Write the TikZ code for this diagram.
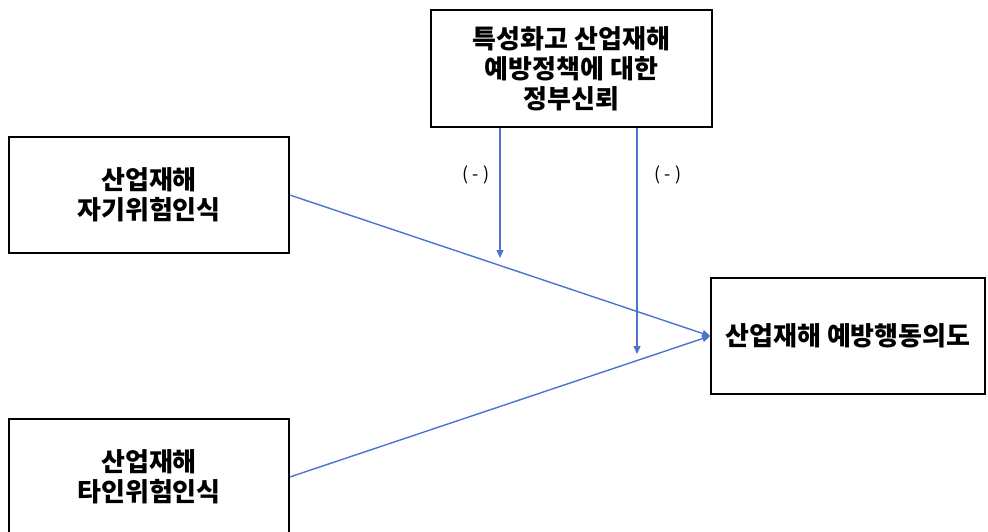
\documentclass[tikz,border=0pt]{standalone}
\usepackage{fontspec}
\newfontfamily\kr{Noto Sans CJK KR}
\usetikzlibrary{arrows.meta}
\definecolor{linkblue}{RGB}{79,114,205}
\tikzset{
  box/.style={draw=black, line width=1.6pt, fill=white, rectangle, align=center,
    font=\kr\bfseries\fontsize{26}{30}\selectfont, inner sep=0pt},
  link/.style={draw=linkblue, line width=1.4pt, -{Triangle[length=8pt,width=7pt]}},
  sign/.style={font=\kr\fontsize{18}{20}\selectfont, inner sep=0pt}
}
\begin{document}
\begin{tikzpicture}[x=1pt,y=-1pt]
\useasboundingbox (0,0) rectangle (988,531);
\node[box, minimum width=281pt, minimum height=117pt] (mod) at (571.5,68.5) {특성화고 산업재해\\예방정책에 대한\\정부신뢰};
\node[box, minimum width=280pt, minimum height=116pt] (self) at (149,195) {산업재해\\자기위험인식};
\node[box, minimum width=280pt, minimum height=116pt] (other) at (149,477) {산업재해\\타인위험인식};
\node[box, minimum width=274pt, minimum height=116pt] (out) at (848,336) {산업재해 예방행동의도};
\coordinate (m1) at (500,258);
\coordinate (m2) at (637,354);
\draw[link] (self.east) -- (out.west);
\draw[link] (other.east) -- (out.west);
\draw[link] (mod.south -| m1) -- (m1);
\draw[link] (mod.south -| m2) -- (m2);
\node[sign] (s1) at (476,175) {( - )};
\node[sign] (s2) at (668,175) {( - )};
\end{tikzpicture}
\end{document}
